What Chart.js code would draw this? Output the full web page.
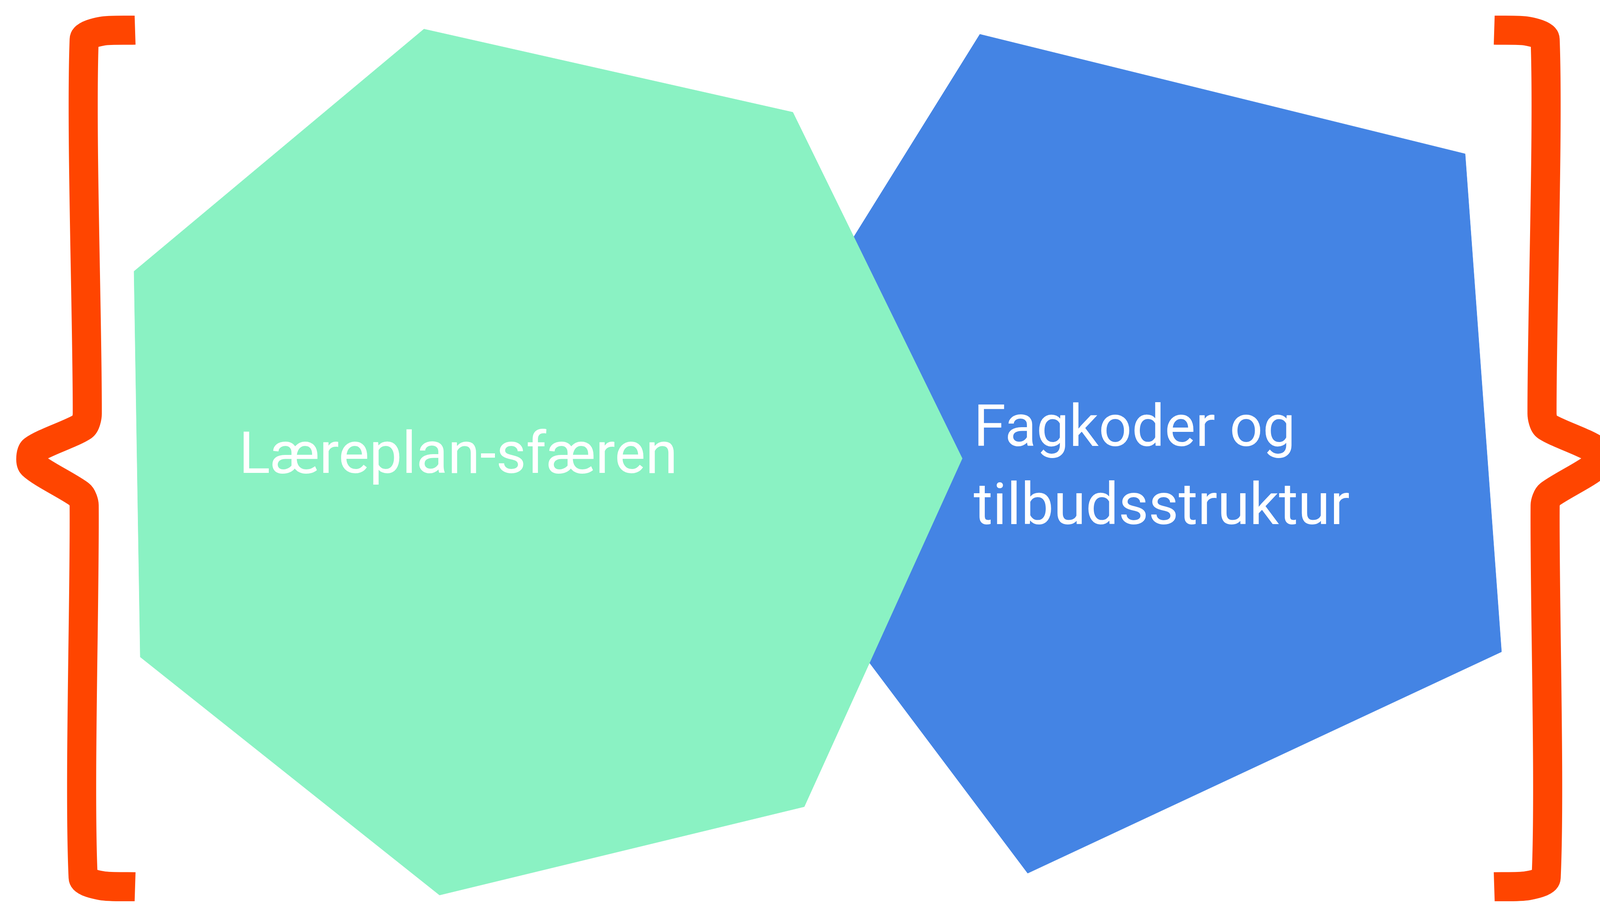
<!DOCTYPE html>
<html>
<head>
<meta charset="utf-8">
<script src="https://cdn.jsdelivr.net/npm/chart.js@4"></script>
<style>
  html, body { margin: 0; padding: 0; background: #ffffff; overflow: hidden; }
  canvas { display: block; }
</style>
</head>
<body>
<canvas id="diagram" width="4171" height="2354" style="width:4171px;height:2354px"></canvas>
<script>
// everything is in a 1568 x 885 reference frame; scale to canvas below
const W = 1568, H = 885;
const S = 4171 / W;

const greenShape = [[408,28],[763,108],[926,441],[774,776],[423,861],[135,632],[129,261],[408,28]];
const blueShape = [[943,33],[1410,148],[1445,627],[989,840],[689,441],[943,33]];
const overlapShape = [[821,228],[926,441],[838,637],[689,441],[821,228]];

const leftBrace = [[130,29],[98,30],[81,38],[84,398],[80,410],[32,433],[31,447],[77,476],[81,486],[80,844],[98,852],[130,853]];
const rightBrace = leftBrace.map(p => [W - p[0], p[1]]);

const labels = [
  { lines: ['Læreplan-sfæren'], x: 441, y: 441, align: 'center' },
  { lines: ['Fagkoder og', 'tilbudsstruktur'], x: 937, y: 415, align: 'left' }
];

const pts = arr => arr.map(p => ({ x: p[0], y: p[1] }));

function shape(arr, color) {
  return { data: pts(arr), showLine: true, fill: false, polyFill: color,
           borderColor: color, borderWidth: 1, pointRadius: 0, tension: 0 };
}
function brace(arr) {
  return { data: pts(arr), showLine: true, fill: false, borderColor: '#ff4500',
           borderWidth: 28 * S, pointRadius: 0, tension: 0.25, borderJoinStyle: 'round',
           borderCapStyle: 'butt' };
}

// fill closed shapes using the points the chart placed through its scales
const polyPlugin = {
  id: 'polyPlugin',
  beforeDatasetDraw(chart, args) {
    const ds = chart.data.datasets[args.index];
    if (!ds.polyFill) return;
    const els = args.meta.data;
    const c = chart.ctx;
    c.save();
    c.beginPath();
    els.forEach((e, i) => i ? c.lineTo(e.x, e.y) : c.moveTo(e.x, e.y));
    c.closePath();
    c.fillStyle = ds.polyFill;
    c.fill();
    c.restore();
  }
};

const textPlugin = {
  id: 'textPlugin',
  afterDatasetsDraw(chart) {
    const c = chart.ctx;
    const sx = chart.scales.x, sy = chart.scales.y;
    c.save();
    c.fillStyle = '#ffffff';
    c.font = (56 * S) + 'px Roboto';
    c.textBaseline = 'middle';
    labels.forEach(l => {
      c.textAlign = l.align;
      l.lines.forEach((t, i) => {
        c.fillText(t, sx.getPixelForValue(l.x), sy.getPixelForValue(l.y + i * 75));
      });
    });
    c.restore();
  }
};

new Chart(document.getElementById('diagram').getContext('2d'), {
  type: 'scatter',
  data: {
    datasets: [
      shape(greenShape, '#8af2c3'),
      shape(blueShape, '#4484e4'),
      shape(overlapShape, '#2ab5b5'),
      brace(leftBrace),
      brace(rightBrace)
    ]
  },
  options: {
    responsive: false,
    animation: false,
    layout: { padding: 0 },
    scales: {
      x: { type: 'linear', min: 0, max: W, display: false },
      y: { type: 'linear', min: 0, max: H, reverse: true, display: false }
    },
    plugins: { legend: { display: false }, tooltip: { enabled: false } }
  },
  plugins: [polyPlugin, textPlugin]
});
</script>
</body>
</html>
